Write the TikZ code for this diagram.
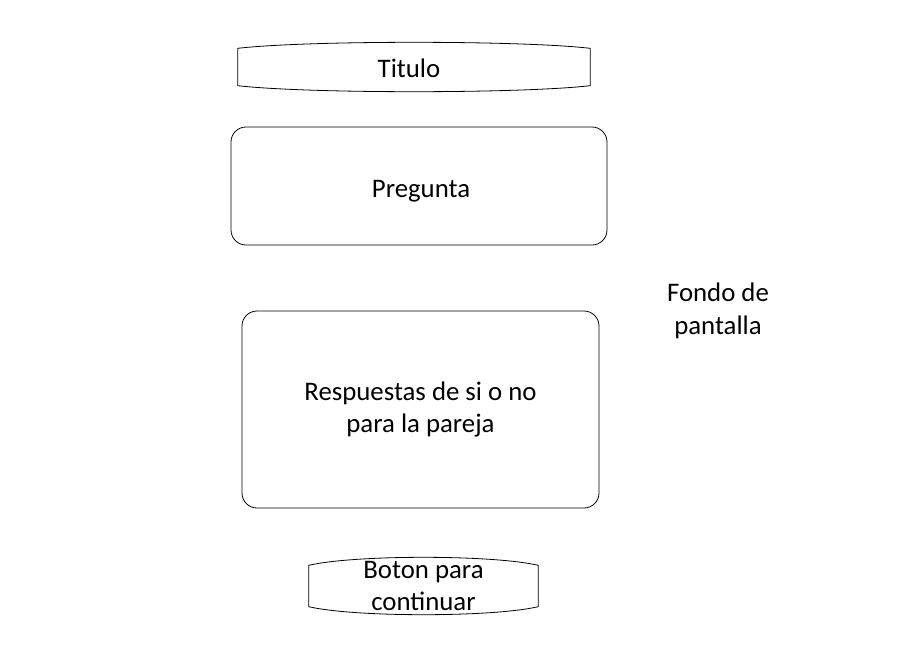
\documentclass[tikz,border=0pt]{standalone}
\usepackage{fontspec}
\setmainfont{Carlito}
\usetikzlibrary{calc,positioning}

\tikzset{
  box/.style={draw, rounded corners=15pt, line width=0.8pt, inner sep=0pt, align=center},
  banner/.style={inner sep=0pt, align=center},
}

\begin{document}
\begin{tikzpicture}[x=1pt, y=1pt, font=\fontsize{26.8}{32.5}\selectfont]
	\useasboundingbox (0,0) rectangle (905,-648);

	\node[banner, minimum width=352pt, minimum height=49pt] (titulo) at (414,-67) {\raisebox{-1.5pt}[\height][\depth]{Titulo}\hspace*{10pt}};
	\node[box, minimum width=376pt, minimum height=118pt] (pregunta) at (419,-186) {\hspace*{4pt}\raisebox{-5pt}[\height][\depth]{Pregunta}};
	\node[box, minimum width=357pt, minimum height=197pt] (respuestas) at (420.5,-409.5) {Respuestas de si o no\\para la pareja};
	\node[banner, minimum width=229pt, minimum height=57pt] (boton) at (423.5,-586) {Boton para\\continuar};
	\node[align=center, inner sep=0pt] (fondo) at (718,-311) {Fondo de\\pantalla};

	% bordes curvos arriba y abajo
	\foreach \n/\b in {titulo/6,boton/8}
		\draw[line width=0.8pt]
			(\n.west) -- ($(\n.south west)+(0,\b)$)
			.. controls ($(\n.south west)!0.2!(\n.south east)+(0,-\b/3)$) and ($(\n.south west)!0.8!(\n.south east)+(0,-\b/3)$) .. ($(\n.south east)+(0,\b)$)
			-- ($(\n.north east)+(0,-\b)$)
			.. controls ($(\n.north west)!0.8!(\n.north east)+(0,\b/3)$) and ($(\n.north west)!0.2!(\n.north east)+(0,\b/3)$) .. ($(\n.north west)+(0,-\b)$)
			-- cycle;
\end{tikzpicture}
\end{document}
